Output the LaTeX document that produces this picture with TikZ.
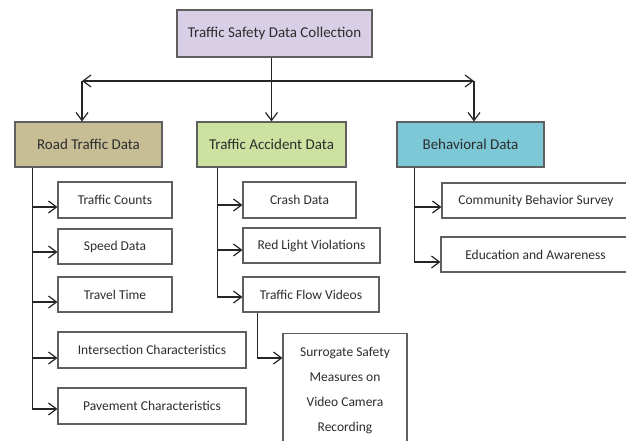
\documentclass[tikz,border=0pt]{standalone}
\usepackage{fontspec}
\setmainfont{Carlito}
\usetikzlibrary{arrows.meta}
\definecolor{topc}{RGB}{216,206,230}
\definecolor{roadc}{RGB}{200,190,150}
\definecolor{accc}{RGB}{205,225,160}
\definecolor{behc}{RGB}{125,200,215}
\definecolor{edge}{RGB}{95,95,95}
\definecolor{txt}{RGB}{45,45,45}
\begin{document}
\begin{tikzpicture}[x=1pt,y=-1pt,
  box/.style={draw=edge,line width=1.1pt,inner sep=0pt,text=txt},
  head/.style={box,font=\fontsize{15}{18}\selectfont,minimum height=45pt},
  child/.style={box,fill=white,font=\fontsize{13.5}{16}\selectfont,minimum height=35pt},
  link/.style={line width=1.2pt,black!85},
  arr/.style={link,-{Straight Barb[length=8pt,width=12pt,line width=1.2pt]}},
  arrs/.style={link,{Straight Barb[length=8pt,width=12pt,line width=1.2pt]}-{Straight Barb[length=8pt,width=12pt,line width=1.2pt]}}]
\clip (0,0) rectangle (626,441);
\fill[white] (0,0) rectangle (626,441);
% top
\node[head,fill=topc,minimum width=195pt,minimum height=47pt] (top) at (274.5,33.5) {Traffic Safety Data Collection};
% heads
\node[head,fill=roadc,minimum width=147pt] (road) at (88.5,144.5) {Road Traffic Data};
\node[head,fill=accc,minimum width=149pt] (acc) at (271.5,144.5) {Traffic Accident Data};
\node[head,fill=behc,minimum width=147pt] (beh) at (470.5,144.5) {Behavioral Data};
% left children
\node[child,minimum width=114pt,minimum height=36pt] (tc) at (115,200) {Traffic Counts};
\node[child,minimum width=114pt] (sd) at (115,246.5) {Speed Data};
\node[child,minimum width=114pt] (tt) at (115,294.5) {Travel Time};
\node[child,minimum width=188pt,minimum height=36pt] (ic) at (152,350) {Intersection Characteristics};
\node[child,minimum width=188pt,minimum height=36pt] (pc) at (152,406) {Pavement Characteristics};
% middle children
\node[child,minimum width=113pt,minimum height=36pt] (cd) at (299.5,200) {Crash Data};
\node[child,minimum width=137pt] (rl) at (311.5,245.5) {Red Light Violations};
\node[child,minimum width=136pt] (tf) at (311,294.5) {Traffic Flow Videos};
\node[child,minimum width=124pt,anchor=north,inner ysep=5.5pt,font=\fontsize{13.5}{25}\selectfont] (ss) at (345,333)
  {\begin{tabular}[t]{@{}c@{}}Surrogate Safety\\ Measures on\\ Video Camera\\ Recording\end{tabular}\rule[-130pt]{0pt}{0pt}};
% right children
\node[child,minimum width=188pt] (cbs) at (536,200.5) {Community Behavior Survey};
\node[child,minimum width=189pt] (ea) at (535.5,254.5) {Education and Awareness};
% top connectors
\coordinate (L) at (82,81);
\coordinate (R) at (474,81);
\draw[arr] (acc.north |- top.south) -- (acc.north);
\draw[arrs] (L) -- (R);
\draw[arr] (L) -- (L |- road.north);
\draw[arr] (R) -- (R |- beh.north);
% left stem
\coordinate (rs) at ([xshift=18pt]road.south west);
\draw[arr] (rs) |- ([yshift=-7pt]tc.west);
\draw[arr] (rs) |- ([yshift=-5.5pt]sd.west);
\draw[arr] (rs) |- ([yshift=-7.5pt]tt.west);
\draw[arr] (rs) |- ([yshift=-8pt]ic.west);
\draw[arr] (rs) |- ([yshift=-3pt]pc.west);
% middle stem
\coordinate (as) at ([xshift=21pt]acc.south west);
\draw[arr] (as) |- ([yshift=-5pt]cd.west);
\draw[arr] (as) |- ([yshift=-4.5pt]rl.west);
\draw[arr] (as) |- ([yshift=-2.5pt]tf.west);
\coordinate (ts) at ([xshift=15pt]tf.south west);
\draw[arr] (ts) |- ([yshift=-25pt]ss.north west);
% right stem
\coordinate (bs) at ([xshift=18pt]beh.south west);
\draw[arr] (bs) |- ([yshift=-6.5pt]cbs.west);
\draw[arr] (bs) |- ([yshift=-7.5pt]ea.west);
\end{tikzpicture}
\end{document}
